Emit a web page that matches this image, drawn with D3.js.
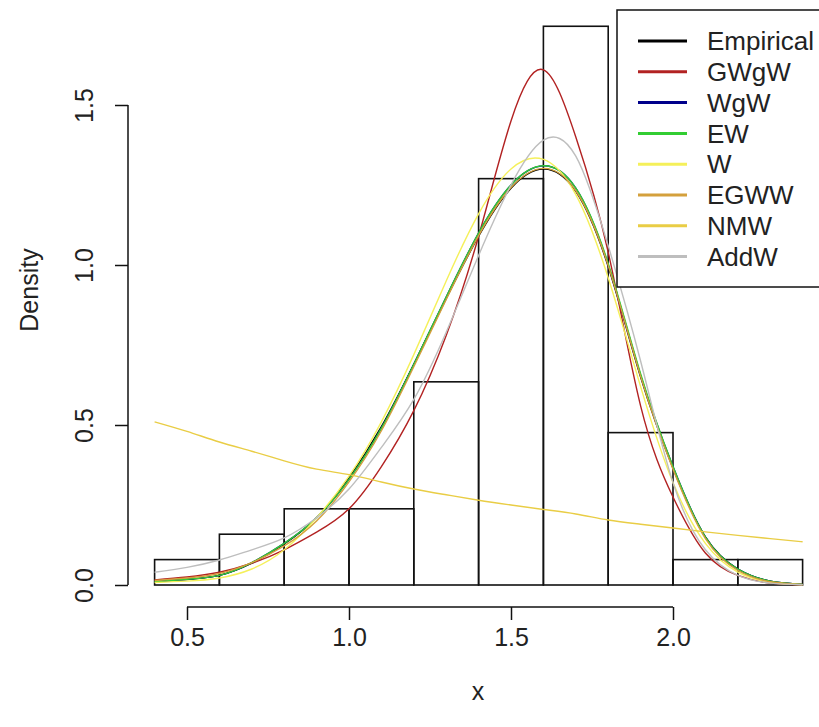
<!DOCTYPE html>
<html>
<head>
<meta charset="utf-8">
<script src="https://cdn.jsdelivr.net/npm/d3@7"></script>
<style>
  html, body { margin: 0; padding: 0; background: #fff; }
  svg { display: block; }
  text { font-family: "Liberation Sans", Arial, sans-serif; fill: #222; }
</style>
</head>
<body>
<svg id="chart" width="819" height="727"></svg>
<script>
// Histogram of x: bin edges and observation counts (n = 63, bin width 0.2)
const binEdges = [0.4, 0.6, 0.8, 1.0, 1.2, 1.4, 1.6, 1.8, 2.0, 2.2, 2.4];
const binCounts = [1, 2, 3, 3, 8, 16, 22, 6, 1, 1];

// Points at which the fitted densities are evaluated
const xGrid = [0.4, 0.5, 0.6, 0.7, 0.8, 0.9, 1.0, 1.1, 1.2, 1.3, 1.4,
               1.5, 1.6, 1.7, 1.8, 1.9, 2.0, 2.1, 2.2, 2.3, 2.4];

// Density values of each model on xGrid
const empirical = [0.010, 0.017, 0.030, 0.068, 0.128, 0.210, 0.335, 0.495, 0.690, 0.895, 1.090,
                   1.240, 1.300, 1.230, 0.995, 0.650, 0.365, 0.150, 0.050, 0.012, 0.002];
const gwgw      = [0.016, 0.025, 0.040, 0.068, 0.110, 0.165, 0.238, 0.370, 0.545, 0.780, 1.090,
                   1.450, 1.610, 1.400, 1.040, 0.560, 0.275, 0.100, 0.030, 0.006, 0.001];
const wgw       = [0.010, 0.018, 0.030, 0.070, 0.130, 0.210, 0.330, 0.490, 0.690, 0.900, 1.100,
                   1.250, 1.310, 1.240, 1.000, 0.655, 0.370, 0.150, 0.050, 0.012, 0.002];
const ew        = [0.010, 0.018, 0.030, 0.070, 0.130, 0.210, 0.330, 0.490, 0.690, 0.900, 1.100,
                   1.250, 1.310, 1.240, 1.005, 0.660, 0.370, 0.150, 0.050, 0.012, 0.002];
const w         = [0.008, 0.012, 0.022, 0.050, 0.110, 0.210, 0.340, 0.510, 0.720, 0.950, 1.160,
                   1.300, 1.330, 1.220, 0.960, 0.620, 0.320, 0.130, 0.040, 0.008, 0.001];
const egww      = [0.014, 0.022, 0.036, 0.070, 0.122, 0.200, 0.322, 0.482, 0.682, 0.892, 1.092,
                   1.242, 1.302, 1.232, 0.998, 0.652, 0.362, 0.145, 0.046, 0.010, 0.002];
const nmw       = [0.510, 0.480, 0.447, 0.418, 0.388, 0.362, 0.345, 0.322, 0.300, 0.282, 0.265,
                   0.250, 0.236, 0.222, 0.203, 0.190, 0.178, 0.166, 0.155, 0.145, 0.135];
const addw      = [0.040, 0.055, 0.078, 0.110, 0.147, 0.210, 0.300, 0.430, 0.580, 0.790, 1.030,
                   1.250, 1.390, 1.340, 1.060, 0.700, 0.320, 0.110, 0.030, 0.006, 0.001];

const seriesNames  = ["Empirical", "GWgW", "WgW", "EW", "W", "EGWW", "NMW", "AddW"];
const seriesValues = [empirical, gwgw, wgw, ew, w, egww, nmw, addw];
const seriesColors = ["#000000", "#b22222", "#00008b", "#32cd32", "#f5f05a", "#d4a03c", "#e9cd45", "#bebebe"];

const xTicks = [0.5, 1.0, 1.5, 2.0];
const yTicks = [0.0, 0.5, 1.0, 1.5];

const svg = d3.select("#chart");

const x = d3.scaleLinear().domain([0.5, 2.0]).range([187, 673]);
const y = d3.scaleLinear().domain([0, 1.5]).range([585, 105]);

const fontSize = 25;
const binWidth = binEdges[1] - binEdges[0];
const nObs = d3.sum(binCounts);

// Histogram bars (density scale)
svg.append("g")
  .selectAll("rect")
  .data(binCounts)
  .join("rect")
  .attr("x", (c, i) => x(binEdges[i]))
  .attr("width", (c, i) => x(binEdges[i + 1]) - x(binEdges[i]))
  .attr("y", c => y(c / (nObs * binWidth)))
  .attr("height", c => y(0) - y(c / (nObs * binWidth)))
  .attr("fill", "none")
  .attr("stroke", "#111")
  .attr("stroke-width", 1.6);

// Density curves
const line = d3.line()
  .x((d, i) => x(xGrid[i]))
  .y(d => y(d))
  .curve(d3.curveNatural);

svg.append("g")
  .selectAll("path")
  .data(seriesValues)
  .join("path")
  .attr("d", vals => line(vals))
  .attr("fill", "none")
  .attr("stroke", (v, i) => seriesColors[i])
  .attr("stroke-width", 1.4);

// Bottom axis, drawn apart from the bars as in base graphics
const xAxis = d3.axisBottom(x).tickValues(xTicks).tickFormat(d3.format(".1f"))
  .tickSize(13).tickPadding(8).tickSizeOuter(0);
const gx = svg.append("g").attr("transform", "translate(0,607)").call(xAxis);
gx.select(".domain").attr("stroke", "#111").attr("stroke-width", 1.5)
  .attr("d", `M${x(xTicks[0])},0H${x(xTicks[xTicks.length - 1])}`);
gx.selectAll(".tick line").attr("stroke", "#111").attr("stroke-width", 1.5);
gx.selectAll(".tick text").style("font-size", fontSize + "px").attr("fill", "#222")
  .attr("font-family", null);

// Left axis with rotated labels
const yAxis = d3.axisLeft(y).tickValues(yTicks).tickFormat(d3.format(".1f"))
  .tickSize(13).tickSizeOuter(0);
const gy = svg.append("g").attr("transform", "translate(128,0)").call(yAxis);
gy.select(".domain").attr("stroke", "#111").attr("stroke-width", 1.5)
  .attr("d", `M0,${y(yTicks[0])}V${y(yTicks[yTicks.length - 1])}`);
gy.selectAll(".tick line").attr("stroke", "#111").attr("stroke-width", 1.5);
gy.selectAll(".tick text")
  .attr("x", null).attr("dy", null)
  .attr("transform", "translate(-35,0) rotate(-90)")
  .attr("text-anchor", "middle")
  .attr("dominant-baseline", "auto")
  .style("font-size", fontSize + "px").attr("fill", "#222");

// Axis titles
svg.append("text")
  .attr("x", 478).attr("y", 700)
  .attr("text-anchor", "middle")
  .style("font-size", fontSize + "px")
  .text("x");
svg.append("text")
  .attr("transform", "translate(38,290) rotate(-90)")
  .attr("text-anchor", "middle")
  .style("font-size", fontSize + "px")
  .text("Density");

// Legend
const legend = svg.append("g");
legend.append("rect")
  .attr("x", 617).attr("y", 10)
  .attr("width", 230).attr("height", 277)
  .attr("fill", "#fff").attr("stroke", "#111").attr("stroke-width", 1.5);
const rows = legend.selectAll("g.row")
  .data(seriesNames)
  .join("g")
  .attr("class", "row")
  .attr("transform", (d, i) => `translate(0,${41 + i * 30.8})`);
rows.append("line")
  .attr("x1", 638).attr("x2", 687)
  .attr("stroke", (d, i) => seriesColors[i])
  .attr("stroke-width", 3);
rows.append("text")
  .attr("x", 707).attr("dy", "0.35em")
  .style("font-size", "26px")
  .text(d => d);
</script>
</body>
</html>
